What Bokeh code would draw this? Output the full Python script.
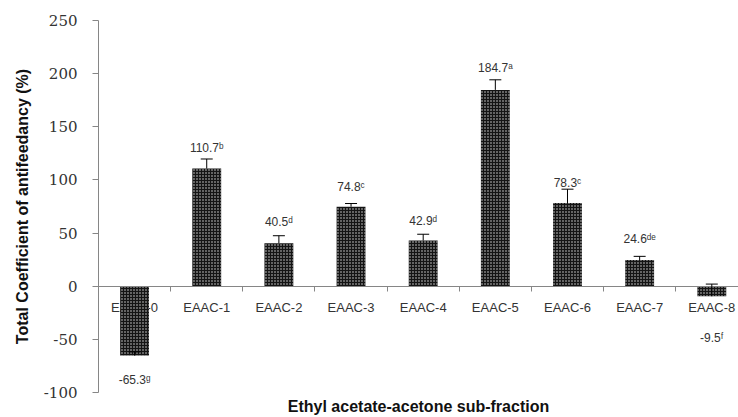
from bokeh.plotting import figure
from bokeh.models import (Range1d, FixedTicker, Whisker, TeeHead, ColumnDataSource,
                          Title)
from bokeh.core.properties import value
from bokeh.embed import file_html
from bokeh.resources import INLINE

# Antifeedancy of the ethyl acetate-acetone sub-fractions
categories = ["EAAC-0", "EAAC-1", "EAAC-2", "EAAC-3", "EAAC-4",
              "EAAC-5", "EAAC-6", "EAAC-7", "EAAC-8"]
coef = [-65.3, 110.7, 40.5, 74.8, 42.9, 184.7, 78.3, 24.6, -9.5]
err = [3.5, 9.0, 7.0, 3.0, 6.0, 9.5, 13.0, 3.5, 11.5]
letters = ["g", "b", "d", "c", "d", "a", "c", "de", "f"]
y_ticks = [-100, -50, 0, 50, 100, 150, 200, 250]

# vertical nudges (px, downwards) of each value label from its anchor
label_shift = [24, -11, -14, -17, -13, -12, -6, -17, 42]

SUP = str.maketrans("abcdefg", "\u1d43\u1d47\u1d9c\u1d48\u1d49\u1da0\u1d4d")

centers = [i + 0.5 for i in range(len(categories))]
upper = [v + e for v, e in zip(coef, err)]
anchor = [u if v >= 0 else v for v, u in zip(coef, upper)]
labels = [f"{v:.1f}{s.translate(SUP)}" for v, s in zip(coef, letters)]

src = ColumnDataSource(dict(x=centers, top=coef, upper=upper, lower=coef,
                            anchor=anchor, label=labels, cat=categories,
                            shift=label_shift))

AXIS_GREY = "#868686"
TEXT = "#333333"

p = figure(width=738, height=417, output_backend="svg", toolbar_location=None,
           x_range=Range1d(0, 8.87), y_range=Range1d(-100, 250),
           min_border_left=98, min_border_right=0, min_border_top=20,
           min_border_bottom=10)
p.outline_line_color = None
p.grid.visible = False

# y axis
ya = p.yaxis[0]
ya.ticker = FixedTicker(ticks=y_ticks)
ya.major_label_overrides = {t: f"{t}" for t in y_ticks}
ya.minor_tick_line_color = None
ya.axis_line_color = AXIS_GREY
ya.major_tick_line_color = AXIS_GREY
ya.major_tick_out = 6
ya.major_tick_in = 0
ya.major_label_standoff = 15
ya.major_label_text_font = "DejaVu Serif"
ya.major_label_text_font_size = "15px"
ya.major_label_text_color = TEXT
ya.axis_label = "Total Coefficient of antifeedancy (%)"
ya.axis_label_text_font = "Liberation Sans"
ya.axis_label_text_font_style = "bold"
ya.axis_label_text_font_size = "16px"
ya.axis_label_text_color = "#111111"
ya.axis_label_standoff = 10

# x axis crossing at zero, ticks between categories
xa = p.xaxis[0]
xa.fixed_location = 0
xa.ticker = FixedTicker(ticks=list(range(10)))
xa.major_label_overrides = {i: "" for i in range(10)}
xa.minor_tick_line_color = None
xa.axis_line_color = AXIS_GREY
xa.major_tick_line_color = AXIS_GREY
xa.major_tick_out = 5
xa.major_tick_in = 0

p.add_layout(Title(text="Ethyl acetate-acetone sub-fraction", align="center",
                   text_font="Liberation Sans", text_font_style="bold",
                   text_font_size="16px", text_color="#111111", standoff=6),
             "below")

# category names sit under the bars
p.text(x="x", y=0, text="cat", source=src, y_offset=21,
       text_align="center", text_baseline="middle",
       text_font=value("Liberation Sans"), text_font_size="13px",
       text_color=TEXT)

p.vbar(x="x", top="top", bottom=0, width=0.4, source=src,
       fill_color="#141414", line_color=None,
       hatch_pattern="dot", hatch_color="white", hatch_scale=3,
       hatch_weight=1.0, hatch_alpha=0.85)

p.add_layout(Whisker(source=src, base="x", upper="upper", lower="lower",
                     dimension="height", line_color="black", line_width=1,
                     upper_head=TeeHead(size=12, line_color="black", line_width=1),
                     lower_head=None, level="overlay"))

p.text(x="x", y="anchor", text="label", source=src, y_offset="shift",
       text_align="center", text_baseline="middle",
       text_font=value("Liberation Sans"), text_font_size="12px",
       text_color=TEXT)

open("out.html", "w").write(file_html(p, INLINE))
